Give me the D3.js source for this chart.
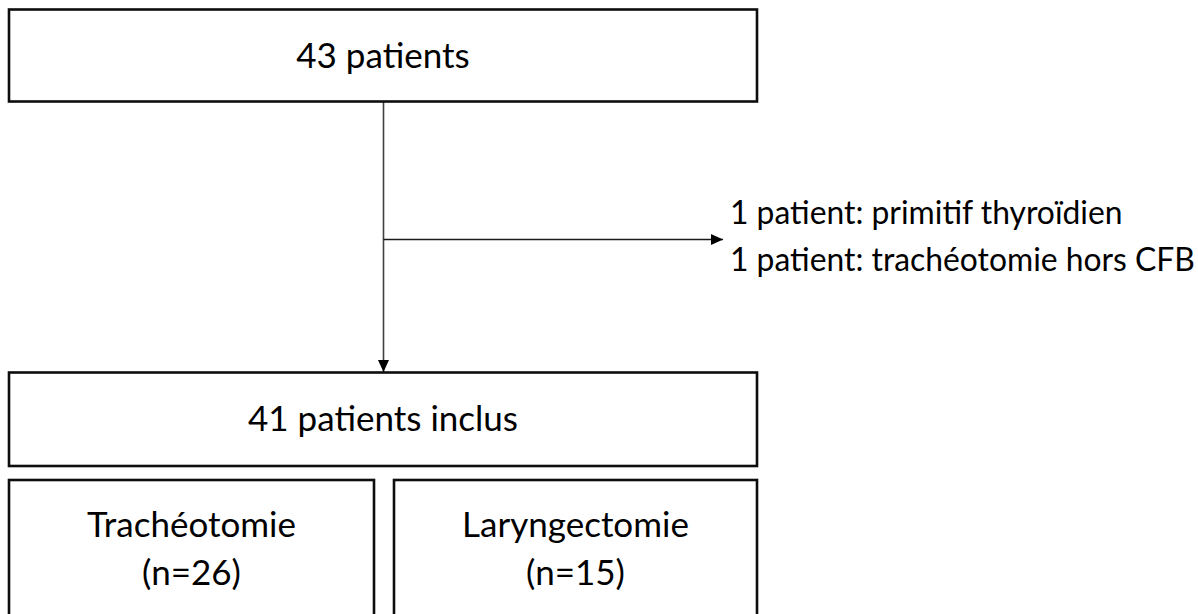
<!DOCTYPE html>
<html>
<head>
<meta charset="utf-8">
<script src="https://cdn.jsdelivr.net/npm/d3@7/dist/d3.min.js"></script>
<style>
html,body{margin:0;padding:0;background:#fff;overflow:hidden;}
svg{display:block;}
</style>
</head>
<body>
<svg id="c" width="1198" height="614"></svg>
<script>
// ---- data ----
const totalLabel = ["43 patients"];
const includedLabel = ["41 patients inclus"];
const exclusionLines = ["1 patient: primitif thyroïdien", "1 patient: trachéotomie hors CFB"];
const groupNames = ["Trachéotomie", "Laryngectomie"];
const groupCounts = [26, 15];

// ---- layout ----
const svg = d3.select("#c");
const FONT = "Lato, 'Open Sans', sans-serif";
const x = d3.scaleLinear().domain([0, 1]).range([9, 757]);

// fit font size so the longest exclusion line spans ~465px
const probe = svg.append("text").attr("font-family", FONT).attr("font-size", 100).text(exclusionLines[1]);
const w100 = probe.node().getComputedTextLength();
probe.remove();
let fs = Math.min(100 * 465 / w100, 36);
// box labels are set slightly larger in the reference
const probe2 = svg.append("text").attr("font-family", FONT).attr("font-size", 100).text(includedLabel[0]);
const w2 = probe2.node().getComputedTextLength();
probe2.remove();
let fsBox = Math.min(100 * 270 / w2, 40);

const black = "#000";

function box(x0, y0, x1, y1) {
  svg.append("rect")
    .attr("x", x0).attr("y", y0)
    .attr("width", x1 - x0).attr("height", y1 - y0)
    .attr("fill", "#fff").attr("stroke", "#0d0d0d").attr("stroke-width", 2.6);
}
function label(lines, cx, cy, lh) {
  const t = svg.append("text")
    .attr("font-family", FONT).attr("font-size", fsBox)
    .attr("fill", black).attr("text-anchor", "middle");
  const n = lines.length;
  lines.forEach((s, i) => {
    t.append("tspan").attr("x", cx)
      .attr("y", cy + (i - (n - 1) / 2) * lh)
      .attr("dy", "0.35em").text(s);
  });
}

// defs: arrowheads
const defs = svg.append("defs");
defs.append("marker").attr("id", "arr")
  .attr("viewBox", "0 0 12 12").attr("refX", 12).attr("refY", 6)
  .attr("markerWidth", 12).attr("markerHeight", 12)
  .attr("markerUnits", "userSpaceOnUse").attr("orient", "auto")
  .append("path").attr("d", "M0,0.5 L12,6 L0,11.5 Z").attr("fill", "#000");

const cxMain = (x(0) + x(1)) / 2;
const midX = 383.5;

// connectors
svg.append("line").attr("x1", midX).attr("y1", 101.5).attr("x2", midX).attr("y2", 372)
  .attr("stroke", "#404040").attr("stroke-width", 1.6).attr("marker-end", "url(#arr)");
svg.append("line").attr("x1", midX).attr("y1", 239.5).attr("x2", 723).attr("y2", 239.5)
  .attr("stroke", "#1a1a1a").attr("stroke-width", 1.3).attr("marker-end", "url(#arr)");

// top box
box(x(0), 9.5, x(1), 101.5);
label(totalLabel, cxMain, 55.5, 0);

// included box
box(x(0), 372.5, x(1), 466);
label(includedLabel, cxMain, 419, 0);

// group boxes
const gx = [[x(0), 374], [394, x(1)]];
groupNames.forEach((g, i) => {
  box(gx[i][0], 480, gx[i][1], 630);
  label([g, "(n=" + groupCounts[i] + ")"], (gx[i][0] + gx[i][1]) / 2, 549, 48);
});

// exclusion text
const et = svg.append("text").attr("font-family", FONT).attr("font-size", fs).attr("fill", black);
exclusionLines.forEach((s, i) => {
  et.append("tspan").attr("x", 730).attr("y", 213 + i * 47).attr("dy", "0.35em").text(s);
});
</script>
</body>
</html>
